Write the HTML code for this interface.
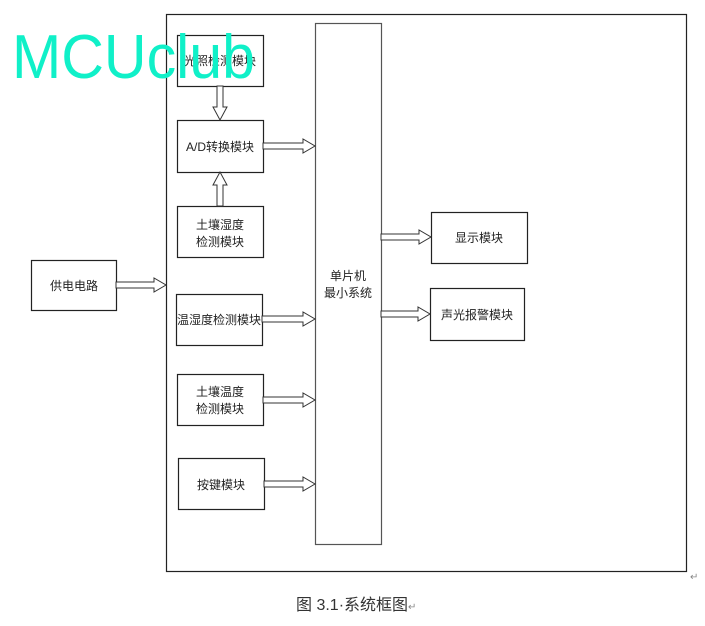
<!DOCTYPE html>
<html><head><meta charset="utf-8"><style>
html,body{margin:0;padding:0;background:#fff;width:705px;height:626px;overflow:hidden}
svg text{font-family:"Liberation Sans","Noto Sans CJK SC",sans-serif}
</style></head><body>
<svg width="705" height="626" viewBox="0 0 705 626" xmlns="http://www.w3.org/2000/svg">
<g fill="#fff" stroke="#222" stroke-width="1.2">
<rect x="166.5" y="14.5" width="520" height="557"/>
<rect x="315.5" y="23.5" width="66" height="521" stroke="#555"/>
<rect x="177.5" y="35.5" width="86" height="51"/>
<rect x="177.5" y="120.5" width="86" height="52"/>
<rect x="177.5" y="206.5" width="86" height="51"/>
<rect x="176.5" y="294.5" width="86" height="51"/>
<rect x="177.5" y="374.5" width="86" height="51"/>
<rect x="178.5" y="458.5" width="86" height="51"/>
<rect x="31.5" y="260.5" width="85" height="50"/>
<rect x="431.5" y="212.5" width="96" height="51"/>
<rect x="430.5" y="288.5" width="94" height="52"/>
</g>
<g fill="#fff" stroke="#333" stroke-width="1">
<polygon points="263,143 303,143 303,139 315,146 303,153 303,149 263,149"/>
<polygon points="116,282 154,282 154,278 166,285 154,292 154,288 116,288"/>
<polygon points="381,234 419,234 419,230 431,237 419,244 419,240 381,240"/>
<polygon points="381,311 418,311 418,307 430,314 418,321 418,317 381,317"/>
<polygon points="262,316 303,316 303,312 315,319 303,326 303,322 262,322"/>
<polygon points="263,397 303,397 303,393 315,400 303,407 303,403 263,403"/>
<polygon points="264,481 303,481 303,477 315,484 303,491 303,487 264,487"/>
<polygon points="217,86 223,86 223,107 227,107 220,120 213,107 217,107"/>
<polygon points="217,206 223,206 223,185 227,185 220,172 213,185 217,185"/>
</g>
<g font-size="12" fill="#222" text-anchor="middle">
<text x="220" y="65">光照检测模块</text>
<text x="220" y="151">A/D转换模块</text>
<text x="220" y="229">土壤湿度</text>
<text x="220" y="246">检测模块</text>
<text x="219" y="324">温湿度检测模块</text>
<text x="220" y="396">土壤温度</text>
<text x="220" y="413">检测模块</text>
<text x="221" y="489">按键模块</text>
<text x="74" y="290">供电电路</text>
<text x="479" y="242">显示模块</text>
<text x="477" y="319">声光报警模块</text>
<text x="348" y="280">单片机</text>
<text x="348" y="297">最小系统</text>
</g>
<text x="296" y="610" font-size="16" fill="#333">图 3.1·系统框图<tspan font-size="10" fill="#888">↵</tspan></text>
<text x="690" y="580" font-size="10" fill="#888">↵</text>
<text x="12" y="78" font-size="62" fill="#10f0c8" textLength="243" lengthAdjust="spacingAndGlyphs">MCUclub</text>
</svg>
</body></html>
